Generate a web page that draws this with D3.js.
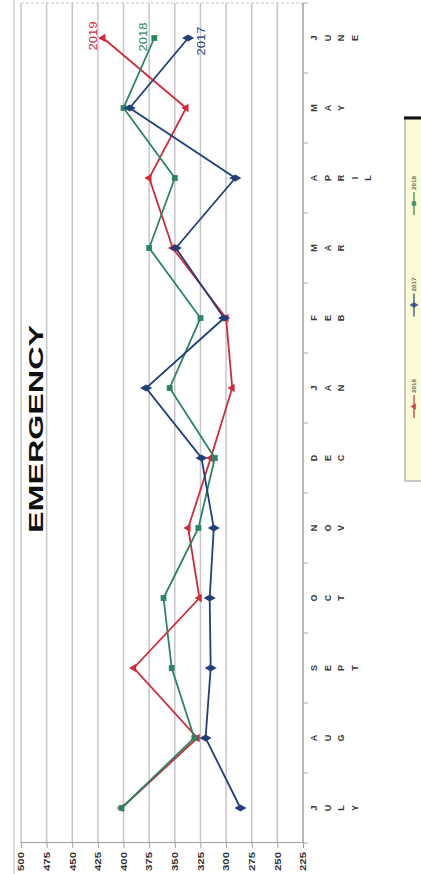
<!DOCTYPE html>
<html>
<head>
<meta charset="utf-8">
<script src="https://cdn.jsdelivr.net/npm/d3@7"></script>
<style>
  html, body { margin: 0; padding: 0; background: #fff; }
  svg { display: block; }
</style>
</head>
<body>
<script>
// Monthly emergency counts, fiscal year July → June
const months = ["JULY", "AUG", "SEPT", "OCT", "NOV", "DEC", "JAN", "FEB", "MAR", "APRIL", "MAY", "JUNE"];
const valueTicks = [500, 475, 450, 425, 400, 375, 350, 325, 300, 275, 250, 225];
const seriesNames = ["2019", "2018", "2017"];
const values2017 = [286, 320, 315, 316, 312, 324, 378, 302, 349, 291, 394, 337];
const values2018 = [402, 331, 353, 361, 327, 311, 355, 325, 375, 350, 400, 370];
const values2019 = [402, 328, 390, 326, 337, 315, 294, 300, 352, 375, 339, 420];
const legendOrder = ["2019", "2017", "2018"];

const colors = { "2017": "#223f7a", "2018": "#2b8560", "2019": "#d12a3c" };
const symbols = { "2017": d3.symbolDiamond, "2018": d3.symbolSquare, "2019": d3.symbolTriangle };
const symbolSize = { "2017": 42, "2018": 34, "2019": 30 };
const dataBySeries = { "2017": values2017, "2018": values2018, "2019": values2019 };

const PAGE_W = 421, PAGE_H = 874;
const FONT = "'Liberation Sans', Arial, sans-serif";

const svg = d3.select("body").append("svg")
  .attr("width", PAGE_W).attr("height", PAGE_H);

// The chart is laid out landscape and turned a quarter turn counter-clockwise.
const g = svg.append("g").attr("transform", `translate(0,${PAGE_H}) rotate(-90)`);

const x = d3.scaleBand().domain(months).range([31, 871]).padding(0);
const xc = m => x(m) + x.bandwidth() / 2;
const y = d3.scaleLinear().domain([225, 500]).range([303, 21]);

// outer frame edge
g.append("line")
  .attr("x1", 0).attr("x2", PAGE_H).attr("y1", 14).attr("y2", 14)
  .attr("stroke", "#c4c4c4").attr("stroke-width", 1.2);

// gridlines
g.append("g").selectAll("line").data(valueTicks).join("line")
  .attr("x1", 31).attr("x2", 871)
  .attr("y1", d => y(d)).attr("y2", d => y(d))
  .attr("stroke", "#c6c6c6").attr("stroke-width", 1.5);

// plot edge opposite the value axis
g.append("line")
  .attr("x1", 871).attr("x2", 871).attr("y1", y(500)).attr("y2", y(225))
  .attr("stroke", "#c8c8c8").attr("stroke-width", 1.2).attr("stroke-dasharray", "3,2");

// value axis
const yAxis = g.append("g").attr("transform", "translate(31,0)")
  .call(d3.axisLeft(y).tickValues(valueTicks).tickSize(5).tickPadding(4).tickFormat(d3.format("d")));
yAxis.select(".domain").attr("stroke", "#a0a0a0").attr("stroke-width", 1.2);
yAxis.selectAll(".tick line").attr("stroke", "#a0a0a0");
yAxis.selectAll(".tick text")
  .attr("font-family", FONT).attr("font-size", 8.5).attr("font-weight", "bold")
  .attr("fill", "#333")
  .attr("textLength", 19).attr("lengthAdjust", "spacingAndGlyphs");

// category axis
const xAxisG = g.append("g");
xAxisG.append("line")
  .attr("x1", 31).attr("x2", 871).attr("y1", 303).attr("y2", 303)
  .attr("stroke", "#a8a8a8").attr("stroke-width", 1.2);
xAxisG.selectAll("line.tk").data(d3.range(months.length + 1)).join("line")
  .attr("class", "tk")
  .attr("x1", i => 31 + i * x.bandwidth()).attr("x2", i => 31 + i * x.bandwidth())
  .attr("y1", 303).attr("y2", 308)
  .attr("stroke", "#a8a8a8");

// stacked month letters
months.forEach(m => {
  xAxisG.append("g").selectAll("text").data(m.split("")).join("text")
    .attr("x", xc(m))
    .attr("y", (c, i) => 314 + i * 13.6)
    .attr("text-anchor", "middle").attr("dominant-baseline", "central")
    .attr("font-family", FONT).attr("font-size", 9).attr("font-weight", "bold")
    .attr("fill", "#3a3a3a")
    .text(c => c);
});

// series lines and markers
const line = d3.line().x(d => xc(d.m)).y(d => y(d.v));
seriesNames.forEach(name => {
  const pts = months.map((m, i) => ({ m, v: dataBySeries[name][i] }));
  const sg = g.append("g");
  sg.append("path").datum(pts)
    .attr("d", line).attr("fill", "none")
    .attr("stroke", colors[name]).attr("stroke-width", 1.8);
  sg.selectAll("path.mk").data(pts).join("path")
    .attr("class", "mk")
    .attr("transform", d => `translate(${xc(d.m)},${y(d.v)})`)
    .attr("d", d3.symbol().type(symbols[name]).size(symbolSize[name]))
    .attr("fill", colors[name]);
});

// series name labels beside the last month
const endLabels = [
  { name: "2019", dx: 2, dy: -10 },
  { name: "2018", dx: 1, dy: -11 },
  { name: "2017", dx: -3, dy: 13 }
];
g.append("g").selectAll("text").data(endLabels).join("text")
  .attr("x", d => xc("JUNE") + d.dx)
  .attr("y", d => y(dataBySeries[d.name][11]) + d.dy)
  .attr("text-anchor", "middle").attr("dominant-baseline", "central")
  .attr("font-family", FONT).attr("font-size", 11)
  .attr("fill", d => colors[d.name])
  .attr("textLength", 29).attr("lengthAdjust", "spacingAndGlyphs")
  .text(d => d.name);

// title
g.append("text")
  .attr("x", 445).attr("y", 35)
  .attr("text-anchor", "middle").attr("dominant-baseline", "central")
  .attr("font-family", FONT).attr("font-size", 21).attr("font-weight", "bold")
  .attr("fill", "#111")
  .attr("textLength", 208).attr("lengthAdjust", "spacingAndGlyphs")
  .text("EMERGENCY");

// legend
const lg = g.append("g");
lg.append("rect")
  .attr("x", 393).attr("y", 405).attr("width", 364).attr("height", 30)
  .attr("fill", "#fbfbd6").attr("stroke", "#a9a9a9").attr("stroke-width", 1.2);
lg.append("line")
  .attr("x1", 756).attr("x2", 756).attr("y1", 404).attr("y2", 421)
  .attr("stroke", "#111").attr("stroke-width", 3);
legendOrder.forEach((name, i) => {
  const x0 = 456 + i * 101.5;
  lg.append("line")
    .attr("x1", x0).attr("x2", x0 + 23).attr("y1", 414).attr("y2", 414)
    .attr("stroke", colors[name]).attr("stroke-width", 1.6).attr("opacity", 0.75);
  lg.append("path")
    .attr("transform", `translate(${x0 + 11.5},414)`)
    .attr("d", d3.symbol().type(symbols[name]).size(symbolSize[name] * 0.6))
    .attr("fill", colors[name]).attr("opacity", 0.8);
  lg.append("text")
    .attr("x", x0 + 32).attr("y", 414)
    .attr("text-anchor", "middle").attr("dominant-baseline", "central")
    .attr("font-family", FONT).attr("font-size", 5.5).attr("font-weight", "bold")
    .attr("fill", "#666")
    .attr("textLength", 14).attr("lengthAdjust", "spacingAndGlyphs")
    .text(name);
});
</script>
</body>
</html>
